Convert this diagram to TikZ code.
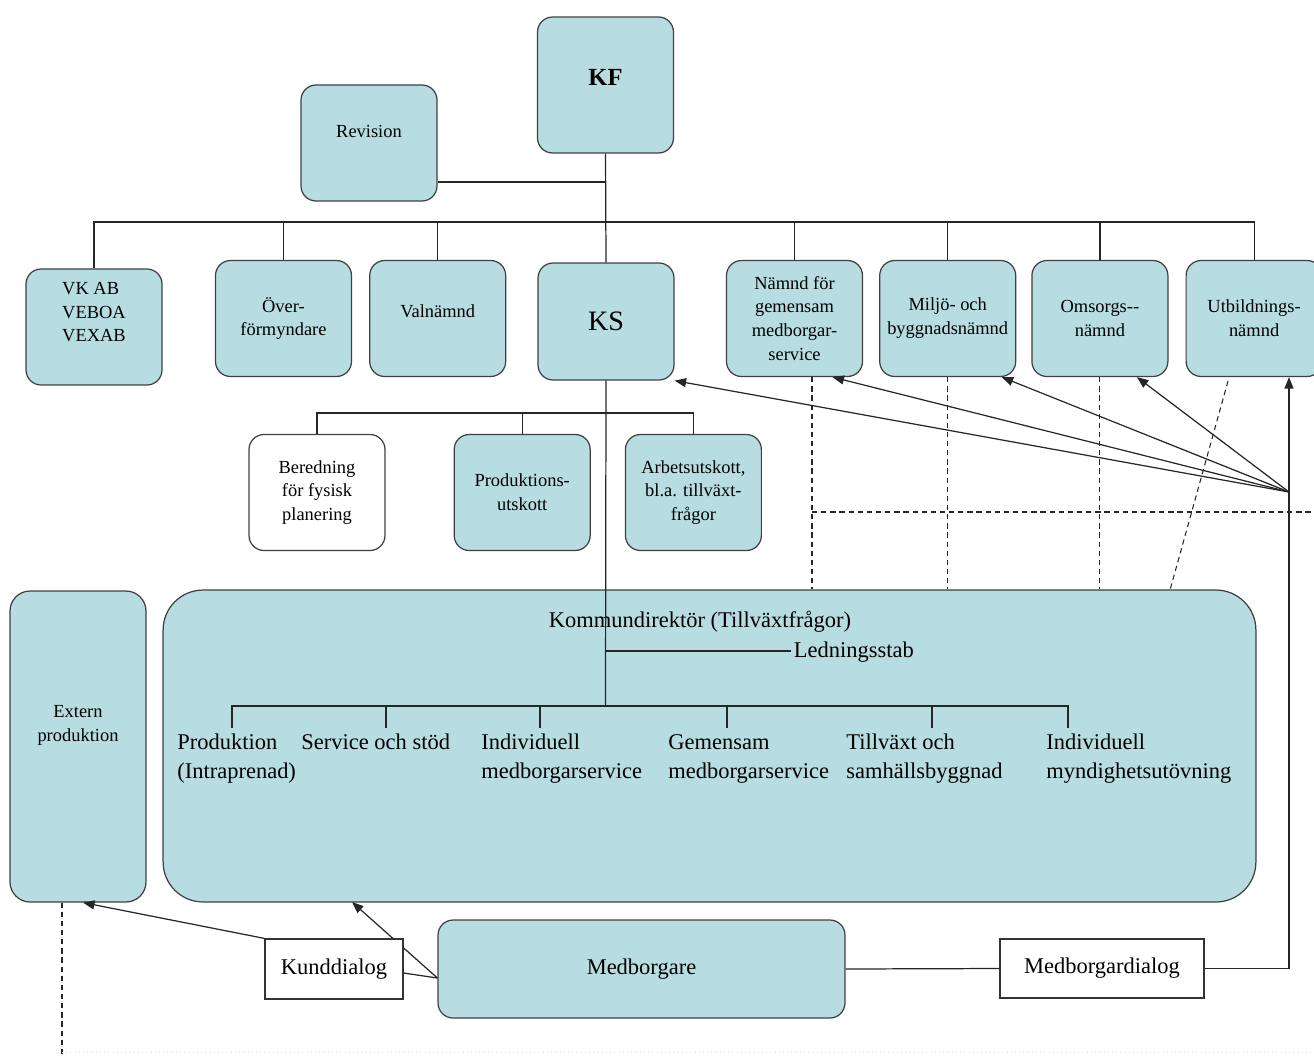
\documentclass[tikz,border=0pt]{standalone}
\usepackage{fontspec}
\setmainfont{Liberation Serif}
\usetikzlibrary{positioning,calc,arrows.meta}
\definecolor{boxcyan}{RGB}{183,221,226}

\begin{document}
\begin{tikzpicture}[x=0.02cm, y=-0.02cm,
        org_box/.style={rectangle, rounded corners=0.3cm, draw=black!75, fill=boxcyan, line width=0.7pt, minimum width=2.72cm, minimum height=2.32cm, align=center, inner sep=1pt, font=\fontsize{10.5}{13.6}\selectfont},
        white_box/.style={org_box, fill=white},
        dial_box/.style={rectangle, draw=black!80, fill=white, line width=0.7pt, font=\fontsize{12.8}{15}\selectfont},
        unit_text/.style={anchor=north west, inner sep=0pt, align=left, font=\fontsize{12.8}{16.4}\selectfont},
        tree_line/.style={black!85, line width=0.7pt},
        arrow_line/.style={tree_line, -{Triangle[length=2.3mm,width=1.8mm]}},
        dash_line/.style={black!85, line width=0.6pt, dash pattern=on 3pt off 2.2pt},
        ]
            \useasboundingbox (0,0) rectangle (1314,1055);

            % top
            \node[org_box, minimum height=2.72cm, text depth=0.3cm, font=\fontsize{14}{16}\selectfont\bfseries] (kf) at (605.5,85) {KF};
            \node[org_box, text depth=0.45cm] (revision) at (369,143) {Revision};
            % nämnder and bolag
            \node[org_box, align=left, text depth=0.6cm] (vk) at (94,327) {VK AB\\VEBOA\\VEXAB};
            \node[org_box]   (over)      at (283.5,318.5)              {Över-\\förmyndare};
            \node[org_box, text depth=0.3cm] (valn) [right = 0.34cm of over] {Valnämnd};
            \node[org_box, minimum height=2.34cm, font=\fontsize{16}{18}\selectfont] (ks) at (606,321.5) {KS};
            \node[org_box]   (namnd)     at (794.5,318.5)              {Nämnd för\\gemensam\\medborgar-\\service};
            \node[org_box]   (miljo)     [right = 0.32cm of namnd]     {Miljö- och\\byggnadsnämnd};
            \node[org_box]   (omsorg)    [right = 0.3cm of miljo]      {Omsorgs-{}-\\nämnd};
            \node[org_box]   (utb)       [right = 0.34cm of omsorg]    {Utbildnings-\\nämnd};
            % utskott
            \node[white_box] (bered)     at (317,492.5)                {Beredning\\för fysisk\\planering};
            \node[org_box]   (prod_u)    [right = 1.36cm of bered]     {Produktions-\\utskott};
            \node[org_box]   (arbets)    [right = 0.68cm of prod_u]    {Arbetsutskott,\\bl.a. tillväxt-\\frågor};

            % förvaltning
            \node[org_box, minimum width=21.86cm, minimum height=6.24cm, rounded corners=0.8cm] (kommun) at (709.5,746) {};
            \node[org_box, minimum height=6.22cm, rounded corners=0.4cm] (extern) at (78,746.5) {};
            \node[align=center, font=\fontsize{10.5}{13.6}\selectfont] (extern_txt) at (78,725) {Extern\\produktion};
            \node[font=\fontsize{12.8}{15}\selectfont] (kd) at (700,622) {Kommundirektör (Tillväxtfrågor)};
            \node[unit_text, anchor=west, inner sep=1.5pt] (ledn) at (791,652) {Ledningsstab};
            \node[unit_text] (u_prod)   at (177,734)  {Produktion\\(Intraprenad)};
            \node[unit_text] (u_serv)   at (301,734)  {Service och stöd};
            \node[unit_text] (u_indiv)  at (481,734)  {Individuell\\medborgarservice};
            \node[unit_text] (u_gem)    at (668,734)  {Gemensam\\medborgarservice};
            \node[unit_text] (u_tillv)  at (846,734)  {Tillväxt och\\samhällsbyggnad};
            \node[unit_text] (u_mynd)   at (1046,734) {Individuell\\myndighetsutövning};

            % medborgare
            \node[org_box, minimum width=8.14cm, minimum height=1.96cm, font=\fontsize{12.8}{15}\selectfont] (medb) at (641.5,969) {Medborgare};
            \node[dial_box, minimum width=4.08cm, minimum height=1.18cm] (mdial) at (1102,968.5) {Medborgardialog};

            % tree lines
            \coordinate (rev_join)  at (605.5,182);
            \coordinate (top_bus)   at (605.5,222);
            \coordinate (ks_bus)    at (605.5,413);
            \coordinate (ledn_join) at (605.5,651);
            \coordinate (inner_bus) at (605.5,706);
            \draw[tree_line] (kf.south) -- (ks.north);
            \draw[tree_line] (rev_join -| revision.east) -- (rev_join);
            \draw[tree_line] (vk.north) |- (top_bus -| utb.north) -- (utb.north);
            \foreach \b in {over,valn,namnd,miljo,omsorg}
                \draw[tree_line] (\b.north) -- (\b.north |- top_bus);
            \draw[tree_line] (bered.north) |- (ks_bus -| arbets.north) -- (arbets.north);
            \draw[tree_line] (prod_u.north) -- (prod_u.north |- ks_bus);
            \draw[tree_line] (ks.south) -- (inner_bus);
            \draw[tree_line] (ledn_join) -- (ledn.west |- ledn_join);
            \foreach \x [count=\i] in {232,386,540,727,932,1068}
                \coordinate (tick\i) at (\x,728);
            \draw[tree_line] (tick1) |- (inner_bus) -| (tick6);
            \foreach \i in {2,...,5}
                \draw[tree_line] (tick\i |- inner_bus) -- (tick\i);

            % dashed links
            \coordinate (dash_x)   at (812,512);
            \coordinate (dash_end) at (1314,512);
            \coordinate (utb_d)    at (1228,381);
            \coordinate (kom_d)    at (1170,590);
            \coordinate (ext_d)    at (62,1055);
            \coordinate (faint_l)  at (62,1052);
            \coordinate (faint_r)  at (1314,1052);
            \draw[dash_line] (dash_x |- namnd.south) -- (dash_x |- kommun.north);
            \draw[dash_line] (dash_x) -- (dash_end);
            \draw[dash_line] (miljo.south) -- (miljo.south |- kommun.north);
            \draw[dash_line] (omsorg.south) -- (omsorg.south |- kommun.north);
            \draw[dash_line] (utb_d) -- (kom_d);
            \draw[dash_line] (ext_d |- extern.south) -- (ext_d);
            \draw[gray!30, line width=0.4pt, dotted] (faint_l) -- (faint_r);

            % medborgardialog
            \coordinate (fan) at (1289,492);
            \draw[tree_line] (medb.east) -- (mdial.west);
            \draw[arrow_line] (mdial.east) -| (fan |- utb.south);
            \draw[arrow_line] (fan) -- (ks.south east);
            \draw[arrow_line] (fan) -- ($(namnd.south)+(38,0)$);
            \draw[arrow_line] (fan) -- ($(miljo.south)+(54,0)$);
            \draw[arrow_line] (fan) -- ($(omsorg.south)+(37,0)$);

            % kunddialog
            \coordinate (m_src) at ($(medb.west)+(0,9)$);
            \coordinate (k_in)  at (352,902);
            \draw[arrow_line] (m_src) -- (k_in);
            \node[dial_box, minimum width=2.76cm, minimum height=1.2cm] (kund) at (334,969) {Kunddialog};
            \draw[tree_line] (m_src) -- ($(kund.east)+(0,4)$);
            \draw[arrow_line] (kund.north west) -- ($(extern.south)+(5,0)$);

\end{tikzpicture}
\end{document}
